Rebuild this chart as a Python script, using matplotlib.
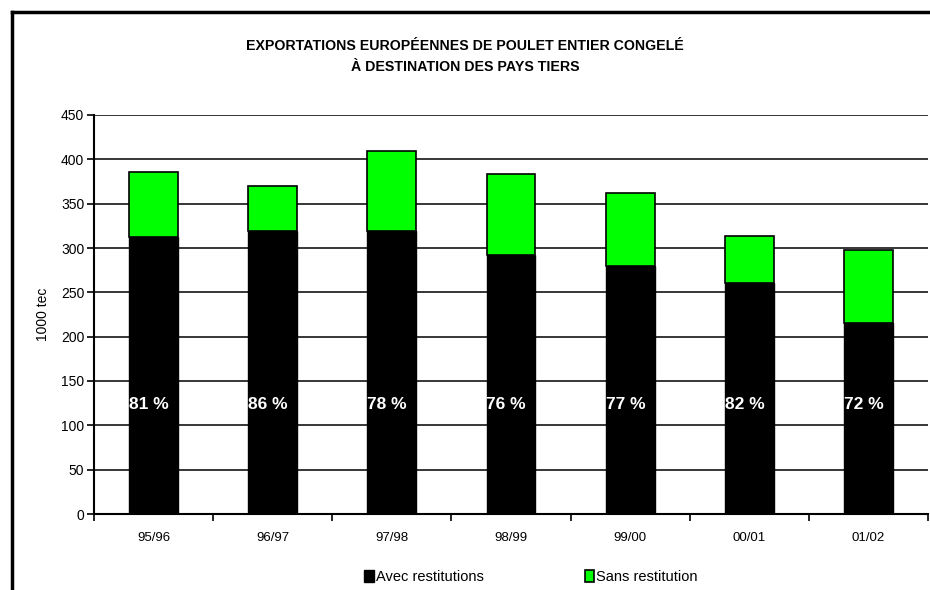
import matplotlib
matplotlib.use("Agg")
import matplotlib.pyplot as plt
from matplotlib.lines import Line2D
import numpy as np

plt.rcParams['font.family'] = ['Liberation Sans', 'DejaVu Sans']

categories = ["95/96", "96/97", "97/98", "98/99", "99/00", "00/01", "01/02"]
avec = [312, 319, 319, 292, 280, 260, 215]
sans = [74, 51, 90, 92, 82, 54, 83]
pct_labels = ["81 %", "86 %", "78 %", "76 %", "77 %", "82 %", "72 %"]
yticks = [0, 50, 100, 150, 200, 250, 300, 350, 400, 450]

fig = plt.figure(figsize=(9.3, 5.9), dpi=100)
ax = fig.add_axes([94/930, 1-514/590, (928-94)/930, (514-115)/590])

x = np.arange(len(categories))
w = 0.41
b1 = ax.bar(x, avec, width=w, color="#000000", edgecolor="#000000", linewidth=1, zorder=3,
            label="Avec restitutions")
b2 = ax.bar(x, sans, bottom=avec, width=w, color="#00ff00", edgecolor="#000000", linewidth=1.2,
            zorder=3, label="Sans restitution")

for xi, lab in zip(x, pct_labels):
    ax.text(xi - 0.04, 123, lab, color="white", fontsize=12.5, fontweight="bold",
            ha="center", va="center", zorder=4)

ax.set_xlim(-0.5, len(categories) - 0.5)
ax.set_ylim(0, 450)
ax.set_yticks(yticks)
ax.set_yticklabels([str(v) for v in yticks], fontsize=10)
ax.yaxis.grid(True, color="#000000", linewidth=1.1, zorder=0)
ax.set_axisbelow(True)

ax.set_xticks(x)
ax.set_xticklabels(categories, fontsize=9.5)
ax.tick_params(axis="x", which="major", length=0, pad=13)
ax.set_xticks(np.arange(-0.5, len(categories)), minor=True)
ax.tick_params(axis="x", which="minor", length=5, width=1.2, direction="out")
ax.tick_params(axis="y", length=5, width=1.2, direction="out", pad=2)

for s in ["top", "right"]:
    ax.spines[s].set_visible(False)
ax.spines["left"].set_linewidth(1.5)
ax.spines["bottom"].set_linewidth(1.5)

ax.set_ylabel("1000 tec", fontsize=10, labelpad=8)

fig.text(0.5, 1-46/590, "EXPORTATIONS EUROPÉENNES DE POULET ENTIER CONGELÉ",
         ha="center", va="center", fontsize=10.2, fontweight="bold")
fig.text(0.5, 1-67/590, "À DESTINATION DES PAYS TIERS",
         ha="center", va="center", fontsize=10.2, fontweight="bold")

fig.legend(handles=[b1, b2], labels=["Avec restitutions", "Sans restitution"],
           loc="center", bbox_to_anchor=(531/930, 1-577/590), ncol=2, frameon=False,
           fontsize=10.5, handlelength=0.65, handleheight=0.8, handletextpad=0.15,
           columnspacing=6.9)

# figure frame
fig.add_artist(Line2D([12/930, 12/930], [0, 1-12/590], transform=fig.transFigure,
                      color="black", linewidth=2.5))
fig.add_artist(Line2D([12/930, 1], [1-12/590, 1-12/590], transform=fig.transFigure,
                      color="black", linewidth=2.5))

fig.savefig("out.png", dpi=100)
